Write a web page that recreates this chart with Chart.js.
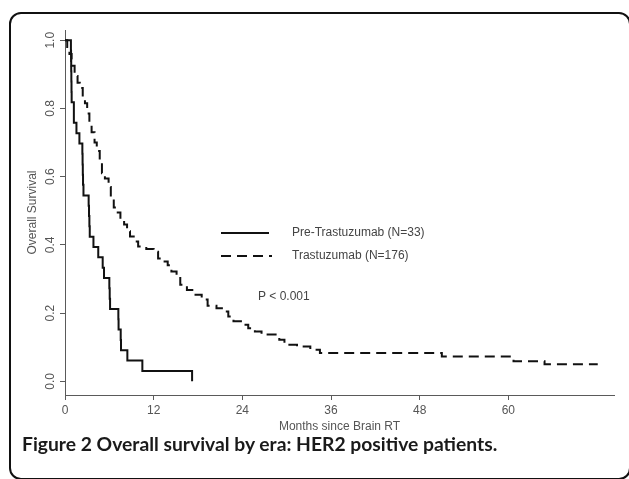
<!DOCTYPE html>
<html>
<head>
<meta charset="utf-8">
<script src="https://cdn.jsdelivr.net/npm/chart.js@4/dist/chart.umd.min.js"></script>
<style>
  body { margin: 0; background: #fff; }
  #wrap { position: relative; width: 629px; height: 479px; overflow: hidden; }
  #frame {
    position: absolute; left: 9px; top: 12px; width: 622px; height: 468px;
    box-sizing: border-box; border: 2px solid #111; border-radius: 12px;
  }
  #chart { position: absolute; left: 0; top: 0; }
  #caption {
    position: absolute; left: 22px; top: 433px; white-space: nowrap;
    font-family: Lato, "Open Sans", sans-serif; font-weight: bold;
    font-size: 19.3px; line-height: 22px; color: #1a1a1a;
  }
</style>
</head>
<body>
<div id="wrap">
  <div id="frame"></div>
  <canvas id="chart" width="629" height="479"></canvas>
  <div id="caption">Figure 2 Overall survival by era: HER2 positive patients.</div>
</div>
<script>
// Kaplan-Meier estimates (months, survival)
const preMonths = [0, 0.8, 0.82, 0.84, 0.86, 0.88, 0.9, 1.2, 1.55, 1.95, 2.35, 2.38, 2.41, 2.44, 2.5,
  3.2, 3.25, 3.3, 3.35, 3.85, 4.5, 5.1, 5.28, 6.0, 6.05, 6.1, 7.22, 7.25, 7.54, 7.58, 8.44, 10.47, 17.2];
const preSurv = [1, 0.97, 0.939, 0.909, 0.879, 0.848, 0.818, 0.758, 0.727, 0.697, 0.667, 0.636, 0.606, 0.576, 0.545,
  0.515, 0.485, 0.455, 0.424, 0.394, 0.364, 0.333, 0.303, 0.273, 0.242, 0.212, 0.182, 0.152, 0.121, 0.091, 0.061, 0.03, 0];

const traMonths = [0, 0.3, 0.6, 0.9, 1.3, 1.7, 2.0, 2.4, 2.7, 3.0, 3.3, 3.6, 4.0, 4.3, 4.7, 5.0, 5.4, 5.9, 6.2, 6.6,
  7.0, 7.5, 8.0, 8.4, 8.8, 9.3, 9.9, 11.0, 12.0, 12.6, 13.3, 13.9, 14.4, 15.1, 15.6, 16.5, 17.4, 18.5, 19.3,
  20.5, 21.4, 22.1, 22.8, 24.0, 24.8, 25.7, 26.6, 29.0, 29.7, 31.4, 33.2, 34.5, 51.0, 60.7, 64.9, 72.1];
const traSurv = [1, 0.98, 0.96, 0.925, 0.895, 0.875, 0.86, 0.835, 0.815, 0.785, 0.76, 0.73, 0.7, 0.675, 0.64, 0.61,
  0.595, 0.57, 0.54, 0.51, 0.495, 0.473, 0.46, 0.44, 0.425, 0.41, 0.395, 0.388, 0.38, 0.36, 0.351, 0.34, 0.322,
  0.312, 0.283, 0.268, 0.254, 0.24, 0.222, 0.214, 0.205, 0.19, 0.176, 0.166, 0.156, 0.146, 0.137, 0.122, 0.107,
  0.102, 0.093, 0.083, 0.073, 0.059, 0.05, 0.05];

const seriesLabels = ["Pre-Trastuzumab (N=33)", "Trastuzumab (N=176)"];
const xTicks = [0, 12, 24, 36, 48, 60];
const yTicks = [0, 0.2, 0.4, 0.6, 0.8, 1.0];
const pValueText = "P < 0.001";

const toPoints = (xs, ys) => xs.map((x, i) => ({ x, y: ys[i] }));

const axisGray = "#5a5a5a";
const tickFont = { family: "'Liberation Sans', Arial, sans-serif", size: 12 };

// legend + p-value drawn inside the plot, like the original
const insideLegend = {
  id: "insideLegend",
  afterDraw(chart) {
    const ctx = chart.ctx;
    const rows = [233, 256];
    ctx.save();
    chart.data.datasets.forEach((ds, i) => {
      ctx.strokeStyle = ds.borderColor;
      ctx.lineWidth = 2;
      ctx.setLineDash(ds.borderDash || []);
      ctx.beginPath();
      ctx.moveTo(221, rows[i]);
      ctx.lineTo(i ? 272 : 269, rows[i]);
      ctx.stroke();
      ctx.setLineDash([]);
      ctx.fillStyle = "#444";
      ctx.font = "12px 'Liberation Sans', Arial, sans-serif";
      ctx.textBaseline = "middle";
      ctx.fillText(ds.label, 292, rows[i]);
    });
    ctx.fillText(pValueText, 258, 297);
    ctx.restore();
  }
};

new Chart(document.getElementById("chart"), {
  type: "line",
  data: {
    datasets: [
      {
        label: seriesLabels[0],
        data: toPoints(preMonths, preSurv),
        borderColor: "#111",
        borderWidth: 2,
        stepped: "before",
        pointRadius: 0,
        fill: false
      },
      {
        label: seriesLabels[1],
        data: toPoints(traMonths, traSurv),
        borderColor: "#111",
        borderWidth: 2,
        borderDash: [10, 6],
        stepped: "before",
        pointRadius: 0,
        fill: false
      }
    ]
  },
  options: {
    responsive: false,
    animation: false,
    events: [],
    layout: { padding: { left: 0, top: 30, right: 15, bottom: 34 } },
    plugins: { legend: { display: false }, tooltip: { enabled: false } },
    scales: {
      x: {
        type: "linear",
        min: 0,
        max: 74.3,
        afterBuildTicks: s => { s.ticks = xTicks.map(v => ({ value: v })); },
        afterFit: s => { s.height = 50; },
        grid: { drawOnChartArea: false, drawTicks: true, tickLength: 5, color: axisGray },
        border: { display: true, color: axisGray, width: 1 },
        ticks: { color: "#555", font: tickFont, padding: 3, maxRotation: 0 },
        title: {
          display: true, text: "Months since Brain RT", color: "#555", font: tickFont,
          padding: { top: 0, bottom: 11 }
        }
      },
      y: {
        min: -0.04,
        max: 1.03,
        afterBuildTicks: s => { s.ticks = yTicks.map(v => ({ value: v })); },
        afterFit: s => { s.width = 65; },
        grid: { drawOnChartArea: false, drawTicks: true, tickLength: 5, color: axisGray },
        border: { display: true, color: axisGray, width: 1 },
        ticks: {
          color: "#555", font: tickFont, padding: 1, minRotation: 90, maxRotation: 90,
          crossAlign: "center",
          callback: v => v.toFixed(1)
        },
        title: {
          display: true, text: "Overall Survival", color: "#555", font: tickFont,
          padding: { top: 25, bottom: 0 }
        }
      }
    }
  },
  plugins: [insideLegend]
});
</script>
</body>
</html>
